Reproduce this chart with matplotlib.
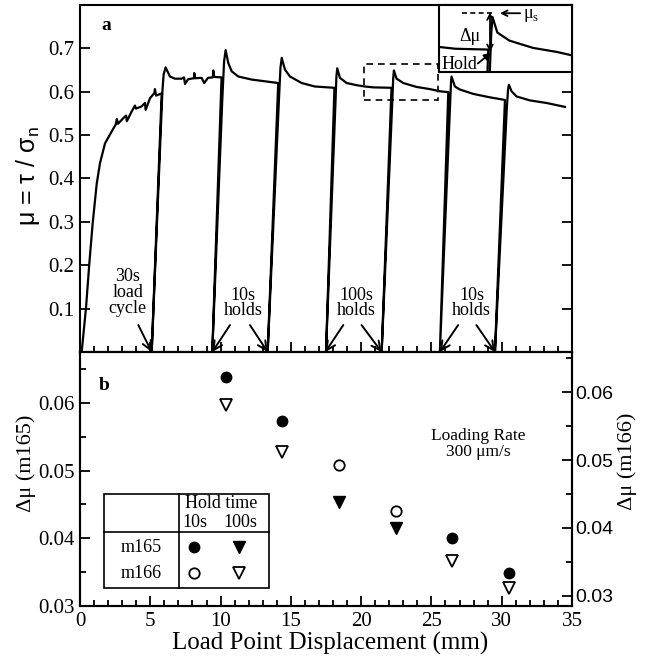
import numpy as np
import matplotlib
matplotlib.use("Agg")
import matplotlib.pyplot as plt
from matplotlib.patches import Rectangle
from matplotlib.ticker import MultipleLocator, FormatStrFormatter

plt.rcParams['font.family'] = ['Liberation Serif', 'DejaVu Serif']
plt.rcParams['axes.linewidth'] = 1.5

# ---- panel a: friction trace (load point displacement mm, mu) ----
curve_x = [0.12, 0.43, 0.66, 0.90, 1.19, 1.42, 1.78, 2.25, 2.55, 2.62, 2.70, 3.08, 3.28, 3.33,
           3.67, 3.91, 3.98, 4.38, 4.62, 4.67, 4.98, 5.29, 5.33, 5.41, 5.81,
           5.10,
           5.86, 5.95, 6.09, 6.40, 6.76, 7.23, 7.40, 7.47, 7.70, 8.10, 8.13, 8.18, 8.65, 8.84,
           9.10, 9.45, 9.48, 9.55, 10.07,
           9.41,
           10.12, 10.25, 10.36, 10.55, 10.79, 11.26, 12.21, 13.16, 14.10,
           13.35,
           14.15, 14.26, 14.35, 14.58, 14.94, 15.77, 16.71, 18.10,
           17.50,
           18.18, 18.24, 18.30, 18.49, 18.97, 19.68, 20.27, 20.86, 22.16,
           21.46,
           22.22, 22.28, 22.33, 22.52, 23.00, 23.94, 24.89, 25.60, 26.20,
           25.60,
           26.34, 26.39, 26.43, 26.67, 27.03, 27.97, 29.16, 30.23,
           29.52,
           30.36, 30.45, 30.51, 30.70, 31.06, 32.00, 33.19, 34.50]
curve_y = [0.0, 0.103, 0.203, 0.296, 0.388, 0.435, 0.481, 0.508, 0.525, 0.537, 0.526, 0.539, 0.545, 0.532,
           0.554, 0.568, 0.561, 0.566, 0.574, 0.558, 0.585, 0.597, 0.606, 0.591, 0.596,
           0.0,
           0.600, 0.640, 0.656, 0.635, 0.630, 0.630, 0.633, 0.618, 0.629, 0.631, 0.643, 0.631, 0.632, 0.620,
           0.632, 0.633, 0.649, 0.634, 0.633,
           0.0,
           0.580, 0.670, 0.696, 0.666, 0.647, 0.635, 0.628, 0.624, 0.620,
           0.0,
           0.580, 0.655, 0.678, 0.651, 0.635, 0.620, 0.612, 0.609,
           0.0,
           0.580, 0.635, 0.654, 0.632, 0.620, 0.615, 0.612, 0.610, 0.609,
           0.0,
           0.580, 0.630, 0.649, 0.630, 0.620, 0.611, 0.606, 0.601, 0.599,
           0.0,
           0.580, 0.620, 0.635, 0.612, 0.605, 0.595, 0.587, 0.581,
           0.0,
           0.560, 0.605, 0.616, 0.601, 0.589, 0.580, 0.574, 0.565]

# zoom box shown in the inset
zoom_x = [20.22, 25.48]
zoom_y = [0.581, 0.664]

# annotations: text, text position, arrow tails and heads
notes = ["30s\nload\ncycle", "10s\nholds", "100s\nholds", "10s\nholds"]
note_x = [3.41, 11.6, 19.67, 27.85]
note_y = [0.137, 0.113, 0.113, 0.113]
arrow_tail_x = [[4.15], [10.67, 12.09], [18.73, 20.03], [26.9, 28.2]]
arrow_head_x = [[5.10], [9.41, 13.35], [17.45, 21.46], [25.6, 29.52]]

# ---- panel b: delta mu ----
m165_10_x = [10.38, 14.37, 26.48, 30.53]
m165_10_y = [0.0638, 0.0573, 0.0400, 0.0348]
m165_100_x = [18.44, 22.47]
m165_100_y = [0.0454, 0.0415]
m166_10_x = [18.44, 22.47]
m166_10_y = [0.0492, 0.0425]
m166_100_x = [10.38, 14.37, 26.48, 30.53]
m166_100_y = [0.0581, 0.0512, 0.0351, 0.0311]

fig = plt.figure(figsize=(6.52, 6.60), dpi=100)
ax1 = fig.add_axes([0.1227, 0.4667, 0.7546, 0.5258])
ax2 = fig.add_axes([0.1227, 0.0818, 0.7546, 0.3849])

# ---- top panel ----
ax1.plot(curve_x, curve_y, color='black', lw=1.6)
ax1.set_xlim(0, 35)
ax1.set_ylim(0, 0.80)
ax1.xaxis.set_major_locator(MultipleLocator(5))
ax1.xaxis.set_minor_locator(MultipleLocator(1))
ax1.set_yticks([0.1, 0.2, 0.3, 0.4, 0.5, 0.6, 0.7])
ax1.yaxis.set_major_formatter(FormatStrFormatter('%.1f'))
ax1.tick_params(which='both', direction='in', top=False, right=True, labelbottom=False,
                labelsize=15, width=1.3)
ax1.tick_params(which='major', length=7, pad=4)
ax1.tick_params(which='minor', length=4)
ax1.set_ylabel(r'μ = τ / σ$_\mathregular{n}$', fontsize=18, family=['Liberation Sans', 'DejaVu Sans'])
ax1.yaxis.set_label_coords(-0.077, 0.507)
ax1.text(0.053, 0.942, 'a', transform=ax1.transAxes, fontsize=14, fontweight='bold',
         ha='center', va='center')

ax1.add_patch(Rectangle((zoom_x[0], zoom_y[0]), zoom_x[1] - zoom_x[0], zoom_y[1] - zoom_y[0],
                        fill=False, ls=(0, (4, 3)), lw=1.2, color='black'))

for txt, tx, ty, tails, heads in zip(notes, note_x, note_y, arrow_tail_x, arrow_head_x):
    ax1.text(tx, ty, txt, ha='center', va='center', fontsize=13, linespacing=0.9)
    for t0, h0 in zip(tails, heads):
        ax1.annotate('', xy=(h0, 0.0), xytext=(t0, 0.062),
                     arrowprops=dict(arrowstyle='->', lw=1.4, mutation_scale=16,
                                     shrinkA=0, shrinkB=0, color='black'))

# inset
axi = fig.add_axes([0.6738, 0.8905, 0.2035, 0.1020])
axi.plot(curve_x, curve_y, color='black', lw=1.6)
axi.set_xlim(zoom_x)
axi.set_ylim(zoom_y)
axi.set_xticks([])
axi.set_yticks([])
axi.plot([0.169, 0.407], [0.886, 0.886], transform=axi.transAxes, color='black',
         ls=(0, (3, 2)), lw=1.2)
axi.annotate('', xy=(0.382, 0.89), xytext=(0.382, 0.30), xycoords='axes fraction',
             arrowprops=dict(arrowstyle='<->', lw=1.3, mutation_scale=10, shrinkA=0, shrinkB=0))
axi.text(0.231, 0.53, 'Δμ', transform=axi.transAxes, fontsize=13, ha='center', va='center')
axi.text(0.148, 0.12, 'Hold', transform=axi.transAxes, fontsize=13, ha='center', va='center')
axi.annotate('', xy=(0.39, 0.29), xytext=(0.29, 0.13), xycoords='axes fraction',
             arrowprops=dict(arrowstyle='-|>', lw=1.3, mutation_scale=10, shrinkA=0, shrinkB=0,
                             color='black'))
axi.annotate('', xy=(0.457, 0.877), xytext=(0.61, 0.877), xycoords='axes fraction',
             arrowprops=dict(arrowstyle='->', lw=1.3, mutation_scale=10, shrinkA=0, shrinkB=0))
axi.text(0.63, 0.84, r'μ$_\mathregular{s}$', transform=axi.transAxes, fontsize=13,
         ha='left', va='center')

# ---- bottom panel ----
ax2.plot(m165_10_x, m165_10_y, 'o', color='black', ms=7.5)
ax2.plot(m165_100_x, m165_100_y, 'v', color='black', ms=9)
ax2.set_xlim(0, 35)
ax2.set_ylim(0.03, 0.0675)
ax2.xaxis.set_major_locator(MultipleLocator(5))
ax2.xaxis.set_minor_locator(MultipleLocator(1))
ax2.yaxis.set_major_locator(MultipleLocator(0.01))
ax2.yaxis.set_minor_locator(MultipleLocator(0.005))
ax2.yaxis.set_major_formatter(FormatStrFormatter('%.2f'))
ax2.tick_params(which='both', direction='in', top=False, right=False, labelsize=15, width=1.3)
ax2.tick_params(which='major', length=7, pad=4)
ax2.tick_params(which='minor', length=4)
ax2.set_xlabel('Load Point Displacement (mm)', fontsize=18)
ax2.xaxis.set_label_coords(0.508, -0.100)
ax2.set_ylabel('Δμ (m165)', fontsize=16)
ax2.yaxis.set_label_coords(-0.089, 0.563)

ax3 = ax2.twinx()
ax3.plot(m166_10_x, m166_10_y, 'o', mfc='white', mec='black', mew=1.3, ms=7.5)
ax3.plot(m166_100_x, m166_100_y, 'v', mfc='white', mec='black', mew=1.3, ms=9)
ax3.set_ylim(0.02845, 0.06595)
ax3.yaxis.set_major_locator(MultipleLocator(0.01))
ax3.yaxis.set_minor_locator(MultipleLocator(0.005))
ax3.yaxis.set_major_formatter(FormatStrFormatter('%.2f'))
ax3.tick_params(which='both', direction='in', labelsize=14, width=1.3, pad=2)
ax3.tick_params(which='major', length=7)
ax3.tick_params(which='minor', length=4)
for lab in ax3.get_yticklabels():
    lab.set_family(['Liberation Sans', 'DejaVu Sans'])
ax3.set_ylabel('Δμ (m166)', fontsize=16, rotation=90)
ax3.yaxis.set_label_coords(1.093, 0.571)

ax2.text(0.049, 0.87, 'b', transform=ax2.transAxes, fontsize=14, fontweight='bold',
         ha='center', va='center')
ax2.text(0.809, 0.638, 'Loading Rate\n300 μm/s', transform=ax2.transAxes, fontsize=12.5,
         ha='center', va='center', linespacing=0.95)

# legend table
tr = ax2.transAxes
ax2.add_patch(Rectangle((0.049, 0.071), 0.335, 0.370, transform=tr, fill=False, lw=1.2,
                        color='black'))
ax2.plot([0.201, 0.201], [0.071, 0.441], transform=tr, color='black', lw=1.2)
ax2.plot([0.049, 0.384], [0.291, 0.291], transform=tr, color='black', lw=1.2)
ax2.text(0.287, 0.402, 'Hold time', transform=tr, fontsize=13, ha='center', va='center')
ax2.text(0.234, 0.328, '10s', transform=tr, fontsize=13, ha='center', va='center')
ax2.text(0.325, 0.328, '100s', transform=tr, fontsize=13, ha='center', va='center')
ax2.text(0.124, 0.232, 'm165', transform=tr, fontsize=13, ha='center', va='center')
ax2.text(0.124, 0.129, 'm166', transform=tr, fontsize=13, ha='center', va='center')
ax2.plot([0.232], [0.232], 'o', transform=tr, color='black', ms=7.5)
ax2.plot([0.324], [0.232], 'v', transform=tr, color='black', ms=9)
ax2.plot([0.232], [0.129], 'o', transform=tr, mfc='white', mec='black', mew=1.3, ms=7.5)
ax2.plot([0.324], [0.129], 'v', transform=tr, mfc='white', mec='black', mew=1.3, ms=9)

fig.savefig('out.png', dpi=100)
